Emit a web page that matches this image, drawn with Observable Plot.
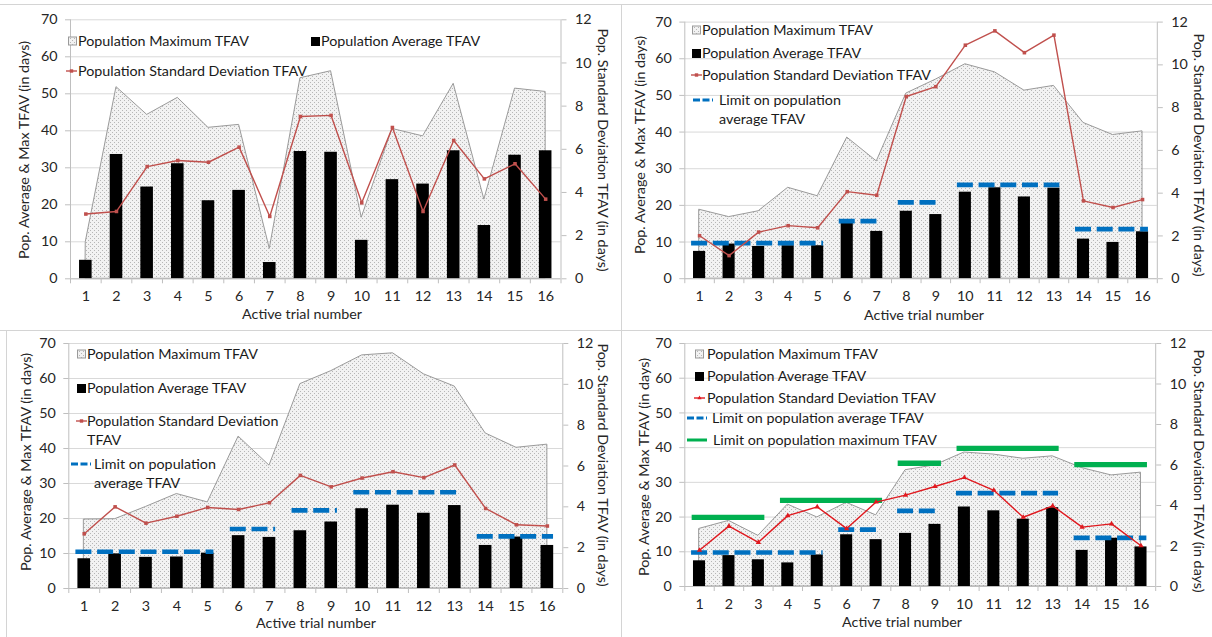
<!DOCTYPE html>
<html>
<head>
<meta charset="utf-8">
<script src="https://cdn.jsdelivr.net/npm/d3@7"></script>
<script src="https://cdn.jsdelivr.net/npm/@observablehq/plot@0.6"></script>
<style>
  body { margin: 0; background: #fff; font-family: Lato, "Open Sans", sans-serif; }
  #root { position: relative; width: 1212px; height: 637px; overflow: hidden; background: #fff; }
  .abs { position: absolute; }
  .leg { position: absolute; font-size: 14.3px; line-height: 19px; white-space: nowrap; color: #1a1a1a; }
  .title { position: absolute; font-size: 14.3px; white-space: nowrap; color: #262626; transform: translate(-50%, -50%); }
  .hline { position: absolute; height: 1px; background: #d4d4d4; }
  .vline { position: absolute; width: 1px; background: #d4d4d4; }
</style>
</head>
<body>
<svg width="0" height="0" style="position:absolute">
  <defs>
    <pattern id="dots" width="4" height="4" patternUnits="userSpaceOnUse">
      <rect width="4" height="4" fill="#f2f2f2"></rect>
      <rect x="0" y="0" width="1" height="1" fill="#b6b6b6"></rect>
      <rect x="2" y="2" width="1" height="1" fill="#b6b6b6"></rect>
    </pattern>
  </defs>
</svg>
<div id="root"></div>
<script>
// ---------------- DATA ----------------
const trials = [1, 2, 3, 4, 5, 6, 7, 8, 9, 10, 11, 12, 13, 14, 15, 16];
const leftTicks = [0, 10, 20, 30, 40, 50, 60, 70];
const rightTicks = [0, 2, 4, 6, 8, 10, 12];

// limit groups (trial ranges)
const avgLimitStart = [1, 6, 8, 10, 14];
const avgLimitEnd   = [5, 7, 9, 13, 16];
const maxLimitStart = [1, 4, 8, 10, 14];
const maxLimitEnd   = [3, 7, 9, 13, 16];

// Panel A (top-left)
const maxA = [10, 51.8, 44.3, 48.9, 40.8, 41.6, 8.1, 54.2, 56.1, 16.5, 40.5, 38.5, 52.7, 21.4, 51.4, 50.5];
const avgA = [5.0, 33.6, 24.8, 31.1, 21.1, 23.9, 4.4, 34.4, 34.2, 10.4, 26.8, 25.6, 34.6, 14.4, 33.4, 34.6];
const sdA  = [3.0, 3.12, 5.2, 5.48, 5.4, 6.1, 2.89, 7.52, 7.57, 3.52, 7.01, 3.12, 6.41, 4.63, 5.33, 3.69];

// Panel B (top-right)
const maxB = [18.8, 16.8, 18.4, 24.8, 22.5, 38.5, 32.0, 50.5, 54.3, 58.5, 56.3, 51.3, 52.6, 42.5, 39.2, 40.2];
const avgB = [7.45, 9.45, 8.8, 9.0, 9.0, 15.1, 12.9, 18.4, 17.5, 23.6, 24.8, 22.3, 24.7, 10.8, 9.9, 12.8];
const sdB  = [2.01, 1.08, 2.18, 2.48, 2.38, 4.07, 3.9, 8.52, 8.98, 10.92, 11.59, 10.57, 11.39, 3.64, 3.33, 3.7];
const avgLimitB = [9.7, 15.7, 20.8, 25.6, 13.5];

// Panel C (bottom-left)
const maxC = [19.7, 19.8, 23.3, 27.0, 24.6, 43.4, 35.1, 58.4, 62.1, 66.6, 67.2, 61.2, 57.7, 44.3, 40.2, 41.1];
const avgC = [8.5, 9.9, 8.9, 9.0, 10.1, 15.1, 14.6, 16.5, 19.0, 22.8, 23.8, 21.5, 23.7, 12.3, 14.7, 12.3];
const sdC  = [2.68, 4.0, 3.2, 3.54, 3.97, 3.87, 4.2, 5.54, 4.98, 5.41, 5.72, 5.43, 6.05, 3.92, 3.12, 3.06];
const avgLimitC = [10.5, 17.0, 22.3, 27.5, 14.9];

// Panel D (bottom-right)
const maxD = [16.6, 18.9, 14.6, 23.6, 19.9, 24.1, 20.5, 33.5, 34.9, 38.6, 38.0, 36.8, 37.5, 34.1, 32.0, 32.8];
const avgD = [7.4, 8.9, 7.7, 6.8, 9.1, 14.9, 13.5, 15.3, 17.9, 22.9, 21.8, 19.4, 22.7, 10.4, 13.9, 11.4];
const sdD  = [1.79, 2.98, 2.18, 3.5, 3.93, 2.86, 4.17, 4.51, 4.94, 5.38, 4.75, 3.42, 3.98, 2.93, 3.09, 2.01];
const avgLimitD = [9.8, 16.4, 21.8, 26.9, 14.0];
const maxLimitD = [19.9, 24.8, 35.5, 39.8, 35.1];

// Texts
const xTitle = "Active trial number";
const yLeftTitle = "Pop. Average & Max TFAV (in days)";
const yRightTitle = "Pop. Standard Deviation TFAV (in days)";
const lblMax = "Population Maximum TFAV";
const lblAvg = "Population Average TFAV";
const lblSd = "Population Standard Deviation TFAV";
const lblLimAvg = "Limit on population average TFAV";
const lblLimMax = "Limit on population maximum TFAV";

// ---------------- LAYOUT ----------------
const root = document.getElementById("root");
const leftMax = leftTicks[leftTicks.length - 1];
const rightMax = rightTicks[rightTicks.length - 1];
const toLeft = v => v * leftMax / rightMax;
const xDomain = [trials[0] - 0.5, trials[trials.length - 1] + 0.5];
const boundaries = [...trials.map(t => t - 0.5), trials[trials.length - 1] + 0.5];

const panels = [
  { left: 0, top: 0, width: 620, height: 330, ml: 70, mr: 59.5, mt: 19.3, mb: 51.7,
    max: maxA, avg: avgA, sd: sdA, limAvg: null, limMax: null, sdColor: "#c0504d", symbol: "square",
    xt: [302, 313], ylt: [23, 150], yrt: [603, 150],
    legend: [
      { kind: "max", sx: 68, y: 41, tx: 78, lines: [lblMax] },
      { kind: "avg", sx: 311, y: 41, tx: 321, lines: [lblAvg] },
      { kind: "sd", sx: 66, y: 71, tx: 78, lines: [lblSd] }
    ] },
  { left: 621, top: 0, width: 591, height: 330, ml: 63.3, mr: 55.2, mt: 21.6, mb: 51.8,
    max: maxB, avg: avgB, sd: sdB, limAvg: avgLimitB, limMax: null, sdColor: "#c0504d", symbol: "square",
    xt: [924, 314], ylt: [639, 145], yrt: [1199, 155],
    legend: [
      { kind: "max", sx: 692, y: 30, tx: 702, lines: [lblMax] },
      { kind: "avg", sx: 692, y: 53, tx: 702, lines: [lblAvg] },
      { kind: "sd", sx: 691, y: 75, tx: 702, lines: [lblSd] },
      { kind: "lim", sx: 693, y: 100, tx: 719, lines: ["Limit on population", "average TFAV"] }
    ] },
  { left: 0, top: 331, width: 620, height: 306, ml: 68.3, mr: 57.7, mt: 12, mb: 49,
    max: maxC, avg: avgC, sd: sdC, limAvg: avgLimitC, limMax: null, sdColor: "#c0504d", symbol: "square",
    xt: [316, 622], ylt: [25, 462], yrt: [603, 465],
    legend: [
      { kind: "max", sx: 77, y: 354, tx: 87, lines: [lblMax] },
      { kind: "avg", sx: 77, y: 388, tx: 87, lines: [lblAvg] },
      { kind: "sd", sx: 76, y: 421, tx: 87, lines: ["Population Standard Deviation", "TFAV"] },
      { kind: "lim", sx: 71, y: 464, tx: 94, lines: ["Limit on population", "average TFAV"] }
    ] },
  { left: 621, top: 331, width: 591, height: 306, ml: 63.3, mr: 56.8, mt: 12, mb: 51,
    max: maxD, avg: avgD, sd: sdD, limAvg: avgLimitD, limMax: maxLimitD, sdColor: "#e0191f", symbol: "triangle",
    xt: [902, 621], ylt: [643, 467], yrt: [1199, 471],
    legend: [
      { kind: "max", sx: 695, y: 354, tx: 707, lines: [lblMax] },
      { kind: "avg", sx: 695, y: 376, tx: 707, lines: [lblAvg] },
      { kind: "sd", sx: 694, y: 398, tx: 707, lines: [lblSd] },
      { kind: "lim", sx: 687, y: 418, tx: 712, lines: [lblLimAvg] },
      { kind: "limmax", sx: 687, y: 440, tx: 713, lines: [lblLimMax] }
    ] }
];

const BLUE = "#0070c0", GREEN = "#00b050", AXIS = "#bfbfbf", GRID = "#d9d9d9", TXT = "#262626";
const FS = 14.3;

for (const p of panels) {
  const rows = trials.map((t, i) => ({ trial: t, max: p.max[i], avg: p.avg[i], sd: p.sd[i] }));
  const marks = [
    Plot.gridY(leftTicks, { stroke: GRID, strokeOpacity: 1 }),
    Plot.areaY(rows, { x: "trial", y: "max", fill: "url(#dots)", stroke: "#9a9a9a", strokeWidth: 1 }),
    Plot.rect(rows, { x1: d => d.trial - 0.205, x2: d => d.trial + 0.205, y1: 0, y2: "avg", fill: "black" }),
    Plot.ruleY([leftTicks[0]], { stroke: AXIS }),
    Plot.ruleX(xDomain, { stroke: AXIS }),
    Plot.axisY(leftTicks, { anchor: "left", tickSize: 5, tickPadding: 8, label: null, stroke: AXIS, fill: TXT, fontSize: FS }),
    Plot.axisY(rightTicks.map(toLeft), { anchor: "right", tickSize: 5, tickPadding: 9, label: null, stroke: AXIS, fill: TXT, fontSize: FS,
      tickFormat: d => String(Math.round(d * rightMax / leftMax)) }),
    Plot.axisX(boundaries, { anchor: "bottom", tickSize: 5, tickFormat: () => "", label: null, stroke: AXIS }),
    Plot.axisX(trials, { anchor: "bottom", tickSize: 0, tickPadding: 12, label: null, fill: TXT, fontSize: FS })
  ];
  if (p.limMax) {
    const lm = maxLimitStart.map((s, i) => ({ s, e: maxLimitEnd[i], v: p.limMax[i] }));
    marks.push(Plot.ruleY(lm, { y: "v", x1: d => d.s - 0.25, x2: d => d.e + 0.22, stroke: GREEN, strokeWidth: 5.3 }));
  }
  if (p.limAvg) {
    const la = avgLimitStart.map((s, i) => ({ s, e: avgLimitEnd[i], v: p.limAvg[i] }));
    marks.push(Plot.ruleY(la, { y: "v", x1: d => d.s - 0.27, x2: d => d.e + 0.2, stroke: BLUE, strokeWidth: 4.7, strokeDasharray: "16,5.7" }));
  }
  marks.push(Plot.line(rows, { x: "trial", y: d => toLeft(d.sd), stroke: p.sdColor, strokeWidth: 1.4 }));
  marks.push(Plot.dot(rows, { x: "trial", y: d => toLeft(d.sd), symbol: p.symbol, r: 2, fill: p.sdColor, stroke: "none" }));

  const chart = Plot.plot({
    width: p.width, height: p.height,
    marginLeft: p.ml, marginRight: p.mr, marginTop: p.mt, marginBottom: p.mb,
    x: { type: "linear", domain: xDomain, axis: null },
    y: { domain: [leftTicks[0], leftMax], axis: null },
    style: { fontFamily: "Lato, 'Open Sans', sans-serif", fontSize: FS + "px", background: "transparent", overflow: "visible" },
    marks
  });
  chart.classList.add("abs");
  chart.style.left = p.left + "px";
  chart.style.top = p.top + "px";
  root.appendChild(chart);

  // axis titles
  const tx = document.createElement("div");
  tx.className = "title"; tx.textContent = xTitle;
  tx.style.left = p.xt[0] + "px"; tx.style.top = p.xt[1] + "px";
  root.appendChild(tx);
  const tl = document.createElement("div");
  tl.className = "title"; tl.textContent = yLeftTitle;
  tl.style.left = p.ylt[0] + "px"; tl.style.top = p.ylt[1] + "px";
  tl.style.transform = "translate(-50%, -50%) rotate(-90deg)";
  root.appendChild(tl);
  const tr = document.createElement("div");
  tr.className = "title"; tr.textContent = yRightTitle;
  tr.style.left = p.yrt[0] + "px"; tr.style.top = p.yrt[1] + "px";
  tr.style.transform = "translate(-50%, -50%) rotate(90deg)";
  root.appendChild(tr);

  // legend
  for (const item of p.legend) {
    const sw = document.createElementNS("http://www.w3.org/2000/svg", "svg");
    sw.setAttribute("width", 22); sw.setAttribute("height", 10);
    sw.style.position = "absolute";
    sw.style.left = item.sx + "px"; sw.style.top = (item.y - 5) + "px";
    let inner = "";
    if (item.kind === "max") inner = '<rect x="0.5" y="1" width="8" height="8" fill="url(#dots)" stroke="#9a9a9a" stroke-width="1"/>';
    else if (item.kind === "avg") inner = '<rect x="0" y="1" width="9" height="9" fill="black"/>';
    else if (item.kind === "sd") {
      inner = `<line x1="0" y1="5" x2="11" y2="5" stroke="${p.sdColor}" stroke-width="1.4"/>` +
        (p.symbol === "square" ? `<rect x="3.8" y="3.3" width="3.4" height="3.4" fill="${p.sdColor}"/>`
                               : `<path d="M5.5,2.6L7.6,6.3L3.4,6.3Z" fill="${p.sdColor}"/>`);
    }
    else if (item.kind === "lim") inner = `<line x1="0" y1="5" x2="20" y2="5" stroke="${BLUE}" stroke-width="3" stroke-dasharray="7,2.5"/>`;
    else if (item.kind === "limmax") inner = `<line x1="0" y1="5" x2="20" y2="5" stroke="${GREEN}" stroke-width="3"/>`;
    sw.innerHTML = inner;
    root.appendChild(sw);
    const t = document.createElement("div");
    t.className = "leg";
    t.style.left = item.tx + "px"; t.style.top = (item.y - 10) + "px";
    t.innerHTML = item.lines.map(s => `<div>${s}</div>`).join("");
    root.appendChild(t);
  }
}

// panel borders
function line(cls, x, y, len) {
  const d = document.createElement("div");
  d.className = cls;
  d.style.left = x + "px"; d.style.top = y + "px";
  if (cls === "hline") d.style.width = len + "px"; else d.style.height = len + "px";
  root.appendChild(d);
}
line("hline", 0, 4, 1212);
line("hline", 0, 330, 1212);
line("vline", 621, 4, 633);
line("vline", 6, 330, 307);
</script>
</body>
</html>
